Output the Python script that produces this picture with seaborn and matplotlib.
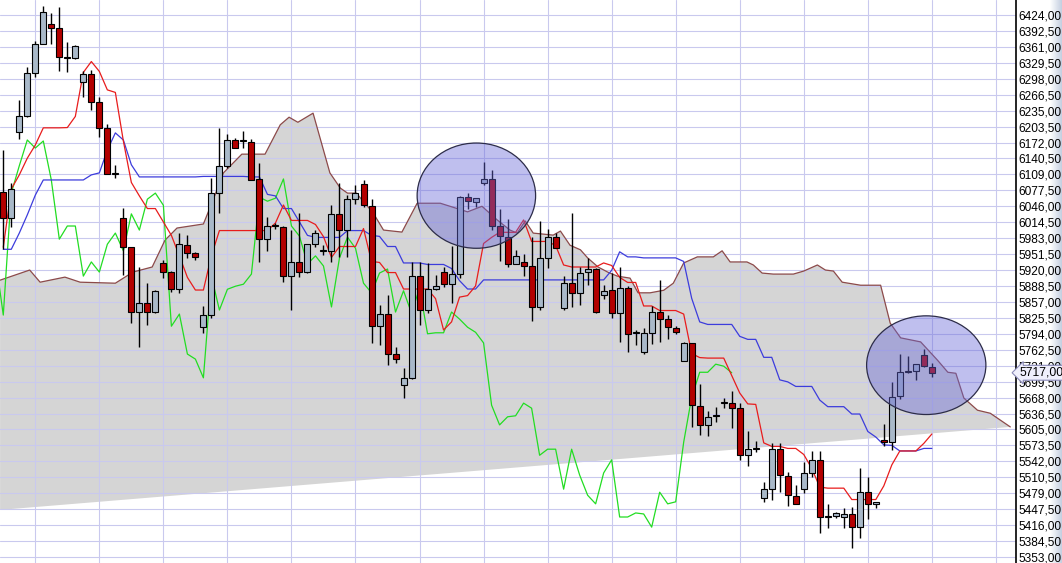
import numpy as np
import pandas as pd
import matplotlib
matplotlib.use("Agg")
import matplotlib.pyplot as plt
import seaborn as sns
from matplotlib.patches import Ellipse

# --- daily OHLC, oldest first ---
opens = [6074, 6023, 6193, 6224, 6309, 6367, 6406, 6398, 6339, 6339,
         6292, 6307, 6252, 6201, 6110, 6023, 5966, 5837, 5854, 5837,
         5934, 5916, 5882, 5970, 5954, 5808, 5831, 6072, 6126, 6177,
         6175, 6173, 6100, 5981, 6007, 6005, 5908, 5936, 5916, 5971,
         5958, 5958, 6031, 5999, 6060, 6090, 6046, 5809, 5833, 5754,
         5693, 5707, 5908, 5841, 5882, 5916, 5892, 5912, 6064, 6054,
         6092, 6100, 6007, 5985, 5932, 5936, 5928, 5847, 5944, 5985,
         5845, 5894, 5875, 5916, 5922, 5871, 5880, 5835, 5884, 5796,
         5758, 5796, 5837, 5823, 5805, 5740, 5776, 5652, 5614, 5632,
         5657, 5657, 5647, 5554, 5566, 5470, 5487, 5566, 5513, 5474,
         5487, 5519, 5545, 5432, 5434, 5432, 5438, 5412, 5481, 5458,
         5584, 5580, 5671, 5718, 5720, 5752, 5728]
highs = [6157, 6092, 6256, 6321, 6373, 6442, 6428, 6440, 6371, 6365,
         6313, 6315, 6262, 6209, 6128, 6043, 5966, 5926, 5894, 5881,
         5940, 5918, 5993, 5989, 5956, 5848, 6102, 6201, 6189, 6181,
         6195, 6179, 6131, 6025, 6013, 6007, 5999, 6033, 5971, 5999,
         5969, 6049, 6092, 6068, 6088, 6098, 6060, 5851, 5871, 5768,
         5726, 5936, 5936, 5934, 5910, 5926, 5968, 6066, 6072, 6062,
         6134, 6118, 6041, 6021, 5960, 5952, 5985, 6017, 6001, 5993,
         5908, 6033, 5926, 5944, 5924, 5890, 5914, 5926, 5888, 5802,
         5806, 5849, 5900, 5831, 5809, 5778, 5776, 5695, 5641, 5649,
         5667, 5681, 5657, 5602, 5582, 5501, 5578, 5578, 5521, 5495,
         5541, 5562, 5562, 5458, 5442, 5450, 5452, 5529, 5511, 5462,
         5616, 5699, 5754, 5750, 5734, 5764, 5736]
lows = [5961, 6005, 6179, 6222, 6301, 6367, 6367, 6313, 6311, 6337,
        6262, 6236, 6183, 6110, 6102, 5910, 5815, 5768, 5811, 5835,
        5904, 5876, 5875, 5944, 5940, 5795, 5825, 6033, 6122, 6161,
        6161, 6098, 5936, 5958, 6001, 5896, 5841, 5906, 5914, 5966,
        5950, 5936, 5946, 5946, 6050, 6044, 5776, 5772, 5732, 5736,
        5667, 5705, 5811, 5835, 5880, 5886, 5855, 5904, 6041, 6044,
        6088, 5999, 5938, 5926, 5932, 5908, 5819, 5841, 5924, 5963,
        5841, 5847, 5851, 5890, 5835, 5863, 5825, 5778, 5758, 5772,
        5754, 5774, 5778, 5784, 5794, 5740, 5610, 5594, 5592, 5620,
        5647, 5608, 5545, 5533, 5560, 5462, 5466, 5481, 5454, 5458,
        5479, 5511, 5400, 5410, 5430, 5410, 5371, 5391, 5428, 5450,
        5572, 5564, 5665, 5716, 5703, 5728, 5709]
closes = [6023, 6080, 6224, 6309, 6367, 6430, 6398, 6341, 6339, 6363,
          6307, 6252, 6201, 6110, 6110, 5966, 5837, 5854, 5837, 5879,
          5916, 5882, 5971, 5954, 5946, 5831, 6072, 6126, 6177, 6161,
          6175, 6098, 5981, 6007, 6007, 5908, 5936, 5916, 5971, 5993,
          5958, 6031, 5999, 6060, 6072, 6048, 5809, 5833, 5754, 5744,
          5707, 5908, 5841, 5882, 5888, 5892, 5912, 6064, 6056, 6062,
          6100, 6007, 5987, 5932, 5948, 5928, 5847, 5944, 5985, 5963,
          5894, 5875, 5914, 5922, 5837, 5879, 5835, 5884, 5794, 5796,
          5796, 5837, 5823, 5807, 5797, 5776, 5653, 5614, 5630, 5632,
          5657, 5647, 5554, 5566, 5566, 5487, 5566, 5515, 5475, 5458,
          5519, 5545, 5432, 5432, 5440, 5438, 5412, 5481, 5458, 5462,
          5580, 5669, 5718, 5718, 5734, 5730, 5717]

# tenkan / kijun before the on-screen history is long enough
tenkan_head = [5965, 6080, 6108, 6141, 6167, 6201, 6201, 6201]
kijun_head = [5961, 5961, 5993, 6029, 6068,
              6098, 6098, 6098, 6098, 6098, 6098,
              6108, 6112, 6157, 6191, 6177, 6128,
              6104, 6104, 6104, 6104, 6104, 6104, 6104, 6104]

# cloud upper edge (bar position, price); lower edge runs straight back to cloud_base_left
cloud_pos = [-0.4, 3.3, 4.6, 7.7, 9.6, 14.0, 16.2, 18.6, 20.2, 21.7,
             25.0, 26.2, 27.5, 29.8, 32.7, 34.6, 35.7, 36.8, 38.7, 40.8,
             42.1, 43.0, 44.1, 46.2, 47.5, 49.8, 51.7, 54.6, 58.0, 59.8,
             61.7, 63.3, 64.2, 65.2, 66.2, 68.7, 69.6, 70.8, 72.1, 73.0,
             74.3, 75.5, 76.7, 78.3, 79.3, 80.8, 82.5, 83.7, 85.0, 86.7,
             88.7, 89.8, 90.8, 92.9, 93.7, 94.8, 96.2, 98.7, 100.0, 101.7,
             102.7, 103.7, 104.8, 107.1, 109.6, 110.8, 112.1, 114.6, 116.7, 118.0,
             119.0, 120.0, 121.7, 123.3, 125.8]
cloud_top = [5900, 5920, 5896, 5906, 5896, 5894, 5916, 5926, 5979, 6003,
             6011, 6058, 6112, 6149, 6149, 6207, 6222, 6212, 6230, 6112,
             6082, 6072, 6072, 6033, 5999, 5995, 6052, 6052, 6035, 6046,
             6019, 5999, 5993, 6017, 5993, 5989, 5997, 5969, 5960, 5944,
             5926, 5916, 5908, 5904, 5875, 5875, 5880, 5894, 5934, 5946,
             5946, 5958, 5936, 5936, 5930, 5914, 5912, 5912, 5918, 5930,
             5920, 5918, 5896, 5890, 5890, 5815, 5786, 5778, 5742, 5718,
             5716, 5667, 5643, 5637, 5610]
cloud_base_left = 5446

# highlighted zones: (centre bar, centre price, width in bars, height in price)
zones = [(59.1, 6067, 14.8, 208), (115.3, 5732, 14.9, 195)]

tick_low, tick_step, n_ticks = 5353.0, 31.5, 35

# --- style ---
sns.set_style("white")
plt.rcParams["font.family"] = ["Liberation Sans", "DejaVu Sans"]

W, H = 1062, 563
fig = plt.figure(figsize=(W / 100, H / 100), dpi=100)

# soft gradient strip at the far right edge
gax = fig.add_axes([1050 / W, 0, 12 / W, 1], zorder=0)
grad = np.linspace(0, 1, 64)[None, :]
gax.imshow(grad, aspect="auto", cmap=matplotlib.colors.LinearSegmentedColormap.from_list(
    "edge", ["#ffffff", "#c3cfe0"]), extent=[0, 1, 0, 1])
gax.axis("off")

ax = fig.add_axes([0, 0, 1015.5 / W, 1], zorder=1)
ax.set_facecolor("white")

df = pd.DataFrame({"open": opens, "high": highs, "low": lows, "close": closes})
df["pos"] = np.arange(len(df))
tenkan = (df["high"].rolling(9).max() + df["low"].rolling(9).min()) / 2
tenkan.iloc[:len(tenkan_head)] = tenkan_head
kijun = (df["high"].rolling(26).max() + df["low"].rolling(26).min()) / 2
kijun.iloc[:len(kijun_head)] = kijun_head
chikou_pos = np.arange(-1, len(df) - 25)
chikou = df["close"].values[24:]

# cloud
poly_x = list(cloud_pos) + [cloud_pos[0]]
poly_y = list(cloud_top) + [cloud_base_left]
ax.fill(poly_x, poly_y, color="#d5d5d5", lw=0, zorder=1)
ax.plot(cloud_pos, cloud_top, color="#8c4a4a", lw=0.9, zorder=2)

# grid
ticks = tick_low + tick_step * np.arange(n_ticks)
for t in ticks:
    ax.axhline(t, color="#c9c9ee", lw=0.8, zorder=1.5)
for p in range(4, 130, 8):
    ax.axvline(p, color="#c9c9ee", lw=0.8, zorder=1.5)

# indicator lines
sns.lineplot(x=chikou_pos, y=chikou, color="#22dd22", lw=0.9, ax=ax, estimator=None, zorder=2)
sns.lineplot(x=df["pos"], y=kijun, color="#3c3cdc", lw=0.9, ax=ax, estimator=None, zorder=2)
sns.lineplot(x=df["pos"], y=tenkan, color="#e81c1c", lw=0.9, ax=ax, estimator=None, zorder=2)

# candles
up = df["close"] >= df["open"]
body_lo = df[["open", "close"]].min(axis=1)
body_h = (df["close"] - df["open"]).abs().clip(lower=2.5)
ax.vlines(df["pos"], df["low"], df["high"], color="black", lw=1.0, zorder=3)
ax.bar(df["pos"], body_h, bottom=body_lo, width=0.75,
       color=np.where(up, "#a9b9c9", "#b30000"), edgecolor="black", lw=0.8, zorder=4)

# highlight zones
for cx, cy, w, h in zones:
    ax.add_patch(Ellipse((cx, cy), w, h, facecolor="#6868d8", alpha=0.42,
                         edgecolor="none", zorder=5))
    ax.add_patch(Ellipse((cx, cy), w, h, facecolor="none",
                         edgecolor="#2c2c48", lw=0.9, zorder=5))

ax.set_xlim(-0.41, 126.45)
ax.set_ylim(5341.1, 6453.6)
ax.set_xticks([])
ax.yaxis.tick_right()
ax.set_yticks(ticks)
ax.set_yticklabels([f"{t:.2f}".replace(".", ",") for t in ticks])
ax.tick_params(axis="y", length=0, pad=2, labelsize=8.6, colors="black")
ax.set_xlabel("")
ax.set_ylabel("")
for side in ["top", "left", "bottom"]:
    ax.spines[side].set_visible(False)
ax.spines["right"].set_color("black")
ax.spines["right"].set_linewidth(1.2)

# last price tag
last = closes[-1]
ax.annotate(f"{last:.2f}".replace(".", ","), xy=(1.0, last), xycoords=("axes fraction", "data"),
            xytext=(3.2, 0), textcoords="offset points", ha="left", va="center",
            fontsize=8.7, color="black", annotation_clip=False, zorder=10,
            bbox=dict(boxstyle="larrow,pad=0.12", fc="#efeffc", ec="#8a8ab8", lw=0.8))

fig.savefig("out.png", dpi=100)
